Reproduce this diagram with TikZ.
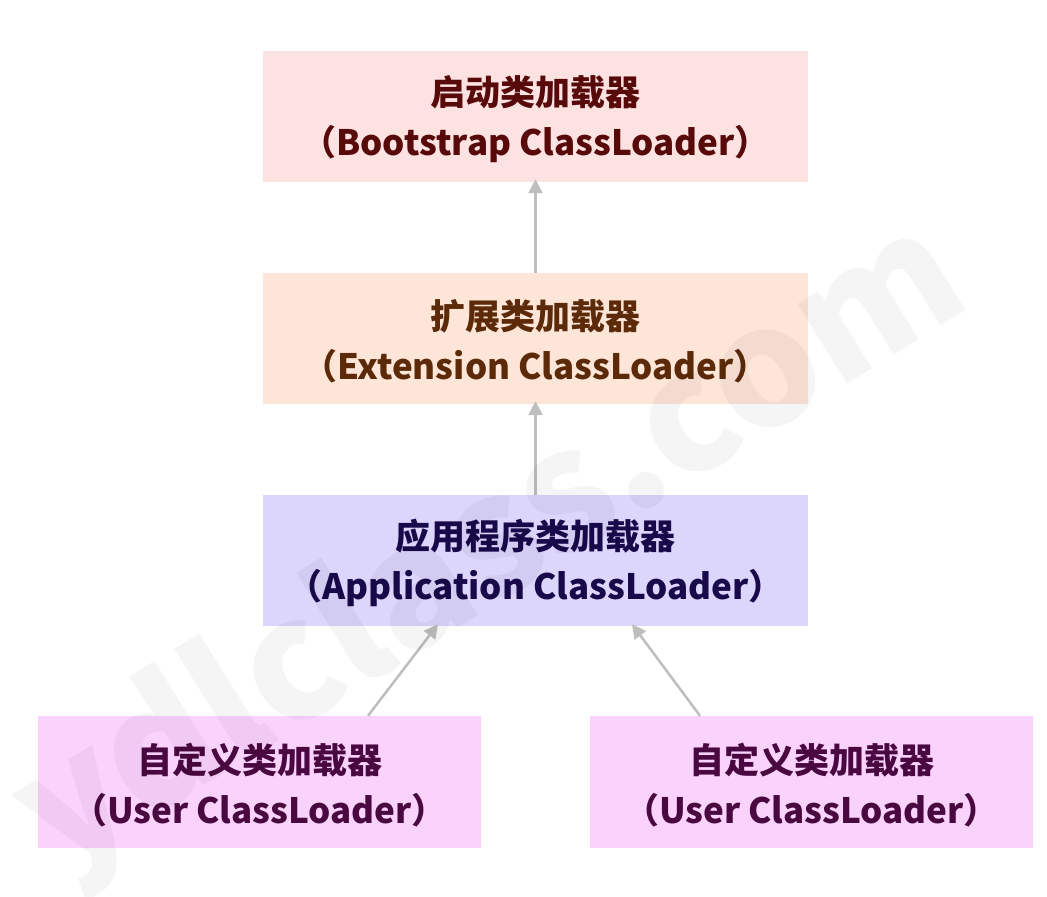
\documentclass[tikz,border=0pt]{standalone}
\usepackage{fontspec}
\setmainfont{Noto Sans CJK SC}
\usepackage{tikz}
\usetikzlibrary{arrows.meta}
\definecolor{boot_fill}{RGB}{253,226,226}
\definecolor{boot_text}{RGB}{88,10,10}
\definecolor{ext_fill}{RGB}{253,230,216}
\definecolor{ext_text}{RGB}{92,42,8}
\definecolor{app_fill}{RGB}{220,213,252}
\definecolor{app_text}{RGB}{24,10,74}
\definecolor{user_fill}{RGB}{250,211,252}
\definecolor{user_text}{RGB}{74,8,64}
\definecolor{edge_gray}{RGB}{190,190,190}

\begin{document}
\begin{tikzpicture}[x=1pt,y=-1pt]
    \tikzstyle{box}=[rectangle, inner sep=0pt, align=center, font=\fontsize{35}{50}\selectfont\bfseries, minimum height=131pt]
    \tikzstyle{boot}=[style=box,fill=boot_fill,text=boot_text,minimum width=545pt]
    \tikzstyle{ext}=[style=box,fill=ext_fill,text=ext_text,minimum width=545pt]
    \tikzstyle{app}=[style=box,fill=app_fill,text=app_text,minimum width=545pt]
    \tikzstyle{user}=[style=box,fill=user_fill,text=user_text,minimum width=443pt,minimum height=132pt]
    \tikzstyle{link}=[draw=edge_gray,line width=2.5pt,-{Triangle[length=14pt,width=14pt,fill=edge_gray]}]

    \useasboundingbox (0,0) rectangle (1047,897);

    \node[boot]  (boot)  at (535.5,116.5) {\rule{0pt}{36pt}启动类加载器\\（Bootstrap ClassLoader）};
    \node[ext]   (ext)   at (535.5,338.5) {\rule{0pt}{36pt}扩展类加载器\\（Extension ClassLoader）};
    \node[app]   (app)   at (535.5,560.5) {\rule{0pt}{36pt}应用程序类加载器\\（Application ClassLoader）};
    \node[user]  (user1) at (259.5,782)   {\rule{0pt}{36pt}自定义类加载器\\（User ClassLoader）};
    \node[user]  (user2) at (811.5,782)   {\rule{0pt}{36pt}自定义类加载器\\（User ClassLoader）};
    \path
     (ext.north) edge[link] ([yshift=3pt]boot.south)
     (app.north) edge[link] ([yshift=3pt]ext.south)
     ([xshift=108.5pt]user1.north) edge[link] ([xshift=-97.5pt,yshift=2pt]app.south)
     ([xshift=-111.5pt]user2.north) edge[link] ([xshift=96.5pt,yshift=2pt]app.south)
     ;

    % watermark
    \node[rotate=32, text=black, opacity=0.04, font=\fontsize{165}{165}\selectfont\bfseries] (mark) at (492,550) {ydlclass.com};
\end{tikzpicture}
\end{document}
